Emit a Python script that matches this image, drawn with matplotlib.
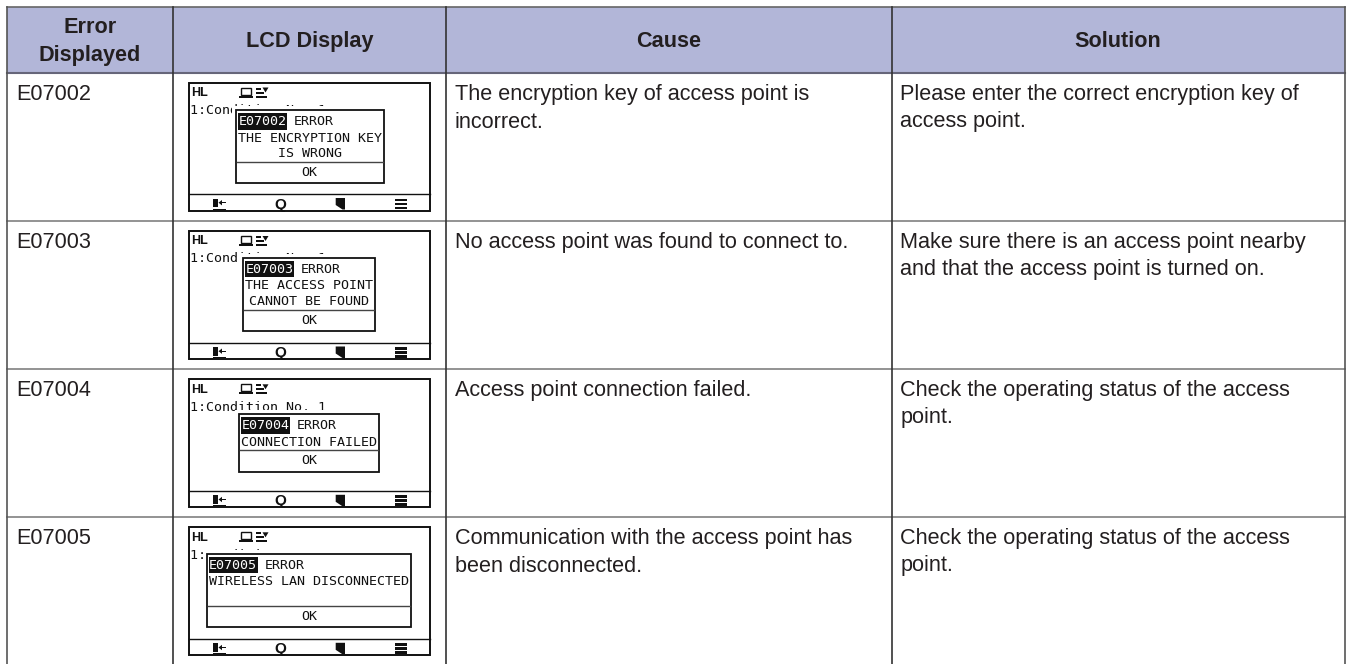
import matplotlib
matplotlib.use("Agg")
import matplotlib.pyplot as plt
from matplotlib.patches import Rectangle, Polygon

plt.rcParams["font.family"] = ["Liberation Sans", "DejaVu Sans"]

# ==========================================================
# Table contents
# ==========================================================
headers = [["Error", "Displayed"], ["LCD Display"], ["Cause"], ["Solution"]]
error_codes = ["E07002", "E07003", "E07004", "E07005"]
causes = [
    ["The encryption key of access point is", "incorrect."],
    ["No access point was found to connect to."],
    ["Access point connection failed."],
    ["Communication with the access point has", "been disconnected."],
]
solutions = [
    ["Please enter the correct encryption key of", "access point."],
    ["Make sure there is an access point nearby", "and that the access point is turned on."],
    ["Check the operating status of the access", "point."],
    ["Check the operating status of the access", "point."],
]
lcd_messages = [
    ["THE ENCRYPTION KEY", "IS WRONG"],
    ["THE ACCESS POINT", "CANNOT BE FOUND"],
    ["CONNECTION FAILED"],
    ["WIRELESS LAN DISCONNECTED"],
]
lcd_status = "ERROR"
lcd_button = "OK"
lcd_mode = "HL"
lcd_condition = "1:Condition No. 1"
lcd_q = "Q"

# ==========================================================
# Layout (pixels)
# ==========================================================
col_x = [6.5, 173, 445.5, 891.5, 1344.5]
row_y = [72.5, 220.5, 368.5, 516.5]
top_y = 7
header_color = "#b2b6d8"
text_color = "#231f20"

lcd_left, lcd_right = 188.5, 429.5
lcd_h = 128
lcd_top = [82.5, 231, 379.3, 527.3]
# left, right, top, bottom, separator
dialogs = [
    (236, 383.5, 110, 182.7, 162),
    (243, 374.7, 257.7, 331, 310),
    (239, 379, 414, 471.7, 450),
    (206.7, 411.3, 553.7, 626.7, 606),
]

fig = plt.figure(figsize=(13.48, 6.64), dpi=100)
ax = fig.add_axes([0, 0, 1, 1])
ax.set_xlim(0, 1348)
ax.set_ylim(664, 0)
ax.axis("off")

# ==========================================================
# Grid
# ==========================================================
ax.add_patch(Rectangle((col_x[0], top_y), col_x[-1] - col_x[0], row_y[0] - top_y,
                       facecolor=header_color, edgecolor="none", zorder=0))
ax.plot([col_x[0], col_x[-1]], [top_y, top_y], color="#666666", lw=1.2, zorder=1)
ax.plot([col_x[0], col_x[-1]], [row_y[0], row_y[0]], color="#66667a", lw=1.5, zorder=1)
for y in row_y[1:]:
    ax.plot([col_x[0], col_x[-1]], [y, y], color="#808080", lw=1.2, zorder=1)
for i, x in enumerate(col_x):
    c = "#555555" if i in (0, 4) else "#333333"
    ax.plot([x, x], [top_y, 664], color=c, lw=1.2, zorder=2)

# ==========================================================
# Header and text columns
# ==========================================================
body_size = 15.55
centers = [(col_x[i] + col_x[i + 1]) / 2 for i in range(4)]
for cx, lines in zip(centers, headers):
    base = 47 if len(lines) == 1 else 33
    for k, line in enumerate(lines):
        ax.text(cx, base + 28 * k, line, ha="center", va="baseline",
                fontsize=body_size, fontweight="bold", color=text_color)

for r in range(4):
    y0 = row_y[r] + 27.5
    ax.text(16, y0, error_codes[r], fontsize=body_size, color=text_color, va="baseline")
    for k, line in enumerate(causes[r]):
        ax.text(455, y0 + 27.5 * k, line, fontsize=body_size, color=text_color, va="baseline")
    for k, line in enumerate(solutions[r]):
        ax.text(900.5, y0 + 27.5 * k, line, fontsize=body_size, color=text_color, va="baseline")

# ==========================================================
# LCD screens
# ==========================================================
mono = "DejaVu Sans Mono"
mono_size = 9.6
ink = "#111111"


def draw_lcd(r):
    t = lcd_top[r]
    ax.add_patch(Rectangle((lcd_left, t), lcd_right - lcd_left, lcd_h, facecolor="white",
                           edgecolor=ink, lw=1.4, zorder=3))
    ax.plot([lcd_left, lcd_right], [t + 111.5, t + 111.5], color=ink, lw=1.0, zorder=4)
    ax.text(191, t + 13.5, lcd_mode, fontsize=9, fontweight="bold", color=ink,
            va="baseline", zorder=4)

    # laptop icon
    ax.add_patch(Rectangle((lcd_left + 52, t + 5), 10.5, 7, facecolor="white",
                           edgecolor=ink, lw=1.0, zorder=4))
    ax.add_patch(Rectangle((lcd_left + 50.5, t + 13), 13.5, 2, facecolor=ink,
                           edgecolor="none", zorder=4))
    # list icon with arrow
    for dy, w in zip((6, 10, 14), (5, 8, 11)):
        ax.add_patch(Rectangle((lcd_left + 67.5, t + dy - 0.9), w, 1.9, facecolor=ink,
                               edgecolor="none", zorder=4))
    ax.add_patch(Polygon([(lcd_left + 74, t + 5), (lcd_left + 80, t + 5), (lcd_left + 77, t + 10)],
                         facecolor=ink, edgecolor="none", zorder=4))

    ax.text(190, t + 31.5, lcd_condition, fontsize=mono_size, family=mono, color=ink,
            va="baseline", zorder=4)

    # footer icons
    fy = t + 111.5
    ax.add_patch(Rectangle((213.3, fy + 4.5), 4.4, 8.5, facecolor=ink, edgecolor="none", zorder=4))
    ax.add_patch(Rectangle((213, fy + 14.5), 13, 1, facecolor=ink, edgecolor="none", zorder=4))
    ax.add_patch(Rectangle((221, fy + 8), 5, 1.4, facecolor=ink, edgecolor="none", zorder=4))
    ax.add_patch(Polygon([(218.5, fy + 8.7), (222, fy + 6), (222, fy + 11.4)],
                         facecolor=ink, edgecolor="none", zorder=4))
    ax.text(280.5, fy + 14.5, lcd_q, fontsize=11, fontweight="bold", color=ink, ha="center",
            va="baseline", zorder=4)
    ax.add_patch(Polygon([(335.7, fy + 4), (345, fy + 4), (345, fy + 15.5), (342.5, fy + 15.5),
                          (335.7, fy + 11)], facecolor=ink, edgecolor="none", zorder=4))
    for dy in (4.5, 8.5, 12.5):
        ax.add_patch(Rectangle((395, fy + dy), 11.7, 2.8, facecolor=ink, edgecolor="none", zorder=4))

    # dialog, with the white margin that hides the line behind it
    left, right, top, bottom, sep = dialogs[r]
    ax.add_patch(Rectangle((left - 4, top - 4), right - left + 8, bottom - top + 8,
                           facecolor="white", edgecolor="none", zorder=5))
    ax.add_patch(Rectangle((left, top), right - left, bottom - top, facecolor="white",
                           edgecolor=ink, lw=1.3, zorder=6))
    ax.plot([left + 1, right - 1], [sep, sep], color="#444444", lw=1.0, zorder=7)
    ax.add_patch(Rectangle((left + 2, top + 3), 49, 16.5, facecolor="#111111",
                           edgecolor="none", zorder=7))
    ax.text(left + 26.5, top + 11.5, error_codes[r], fontsize=mono_size, family=mono, color="white",
            ha="center", va="center", zorder=8)
    ax.text(left + 58, top + 11.5, lcd_status, fontsize=mono_size, family=mono, color=ink,
            va="center", zorder=8)
    cx = (left + right) / 2
    for k, line in enumerate(lcd_messages[r]):
        ax.text(cx, top + 28 + 15.5 * k, line, fontsize=mono_size, family=mono, color=ink,
                ha="center", va="center", zorder=8)
    ax.text(cx, (sep + bottom) / 2, lcd_button, fontsize=mono_size, family=mono, color=ink,
            ha="center", va="center", zorder=8)


for r in range(4):
    draw_lcd(r)

fig.savefig("out.png", dpi=100)
